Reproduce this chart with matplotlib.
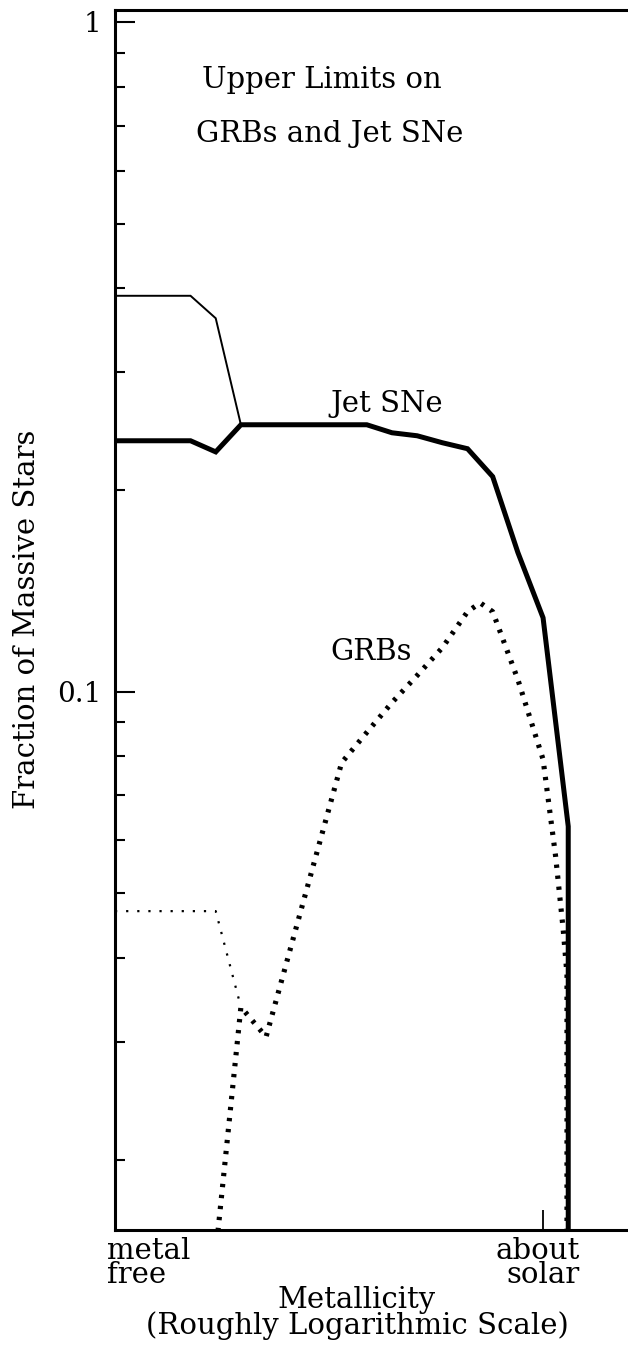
import matplotlib
matplotlib.use('Agg')
import matplotlib.pyplot as plt
from matplotlib.ticker import FixedLocator, FixedFormatter, NullFormatter

# ---------------- data (x: metallicity steps, 0 = metal free, 17 = about solar) -------------
x_jet_thin = [0, 3, 4, 5]
y_jet_thin = [0.390, 0.390, 0.361, 0.2503]

x_jet = [0, 3, 4, 5, 10, 11, 12, 13, 14, 15, 16, 17, 18, 18]
y_jet = [0.2369, 0.2369, 0.228, 0.2503, 0.2503, 0.2435, 0.241, 0.2353, 0.2305,
         0.2094, 0.1613, 0.1289, 0.0629, 0.010]

x_grb_thin = [0, 4, 5]
y_grb_thin = [0.0470, 0.0470, 0.0338]

x_grb = [4, 5, 6, 9, 10, 11, 12, 13, 14, 14.5, 15, 16, 17, 17.5, 17.8, 17.95, 17.95]
y_grb = [0.0145, 0.0338, 0.0305, 0.0783, 0.0869, 0.0963, 0.1057, 0.1163, 0.1316,
         0.1357, 0.1316, 0.1042, 0.0792, 0.0567, 0.0441, 0.0378, 0.010]

y_major = [0.1, 1.0]
y_major_labels = ["0.1", "1"]
y_minor = [0.02, 0.03, 0.04, 0.05, 0.06, 0.07, 0.08, 0.09,
           0.2, 0.3, 0.4, 0.5, 0.6, 0.7, 0.8, 0.9]
x_solar = 17

# ---------------- figure ----------------
W, H = 628, 1347
fig = plt.figure(figsize=(W / 100, H / 100), dpi=100)
L, B, T = 115, 1230, 10
ax = fig.add_axes([L / W, 1 - B / H, 1 - L / W, (B - T) / H])
ax.set_yscale('log')
ax.set_ylim(0.0157, 1.042)
ax.set_xlim(0, (W - L) / 25.18)

FONT = 'DejaVu Serif'
FS = 21

# lines
ax.plot(x_jet_thin, y_jet_thin, color='black', lw=1.4, solid_joinstyle='miter')
ax.plot(x_jet, y_jet, color='black', lw=3.6, solid_joinstyle='miter')
ax.plot(x_grb_thin, y_grb_thin, color='black', lw=1.6, linestyle=(0, (1, 4)),
        dash_capstyle='butt')
ax.plot(x_grb, y_grb, color='black', lw=3.7, linestyle=(0, (0.65, 1.5)),
        dash_capstyle='butt')

# spines
for s in ['left', 'bottom', 'top']:
    ax.spines[s].set_linewidth(2.2)
ax.spines['right'].set_visible(False)

# y ticks
ax.yaxis.set_major_locator(FixedLocator(y_major))
ax.yaxis.set_major_formatter(FixedFormatter(y_major_labels))
ax.yaxis.set_minor_locator(FixedLocator(y_minor))
ax.yaxis.set_minor_formatter(NullFormatter())
ax.tick_params(axis='y', which='major', direction='in', length=14.4, width=1.5,
               pad=10, labelsize=20, right=False)
ax.tick_params(axis='y', which='minor', direction='in', length=7.2, width=1.5,
               right=False)
for lab in ax.get_yticklabels():
    lab.set_fontfamily(FONT)

# x ticks
ax.set_xticks([x_solar])
ax.set_xticklabels([''])
ax.tick_params(axis='x', which='major', direction='in', length=14.4, width=1.3,
               top=False)
ax.xaxis.set_minor_locator(FixedLocator([]))


def ftxt(px, py, s, ha='left', va='center', size=FS, rot=0, ls=1.2):
    fig.text(px / W, 1 - py / H, s, ha=ha, va=va, fontsize=size,
             family=FONT, rotation=rot, linespacing=ls, multialignment=ha)


ftxt(202, 80, "Upper Limits on")
ftxt(196, 134, "GRBs and Jet SNe")
ftxt(330, 404, "Jet SNe")
ftxt(330, 652, "GRBs")
ftxt(107, 1263, "metal\nfree", ls=0.8)
ftxt(580, 1263, "about\nsolar", ha='right', ls=0.8)
ftxt(357, 1313, "Metallicity\n(Roughly Logarithmic Scale)", ha='center', ls=0.86)
ftxt(27, 619, "Fraction of Massive Stars", ha='center', rot=90)

fig.savefig('out.png', dpi=100)
